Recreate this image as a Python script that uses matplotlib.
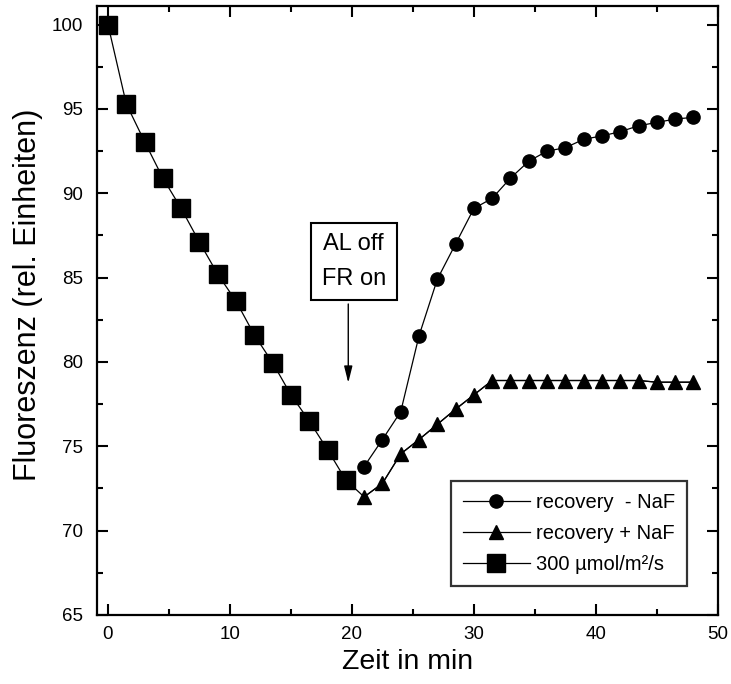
import matplotlib
matplotlib.use("Agg")
import matplotlib.pyplot as plt
from matplotlib.ticker import MultipleLocator

plt.rcParams['font.family'] = ['Liberation Sans', 'DejaVu Sans']

# Data
sq_x = [0, 1.5, 3, 4.5, 6, 7.5, 9, 10.5, 12, 13.5, 15, 16.5, 18, 19.5]
sq_y = [100, 95.3, 93.06, 90.9, 89.1, 87.1, 85.2, 83.6, 81.6, 79.95, 78.05, 76.5, 74.8, 73.0]

rec_x = [21, 22.5, 24, 25.5, 27, 28.5, 30, 31.5, 33, 34.5, 36, 37.5, 39, 40.5, 42, 43.5, 45, 46.5, 48]
circ_y = [73.8, 75.4, 77.05, 81.55, 84.9, 87.0, 89.1, 89.7, 90.9, 91.9, 92.5, 92.7, 93.2,
          93.4, 93.65, 94.0, 94.2, 94.4, 94.5]
tri_y = [72.0, 72.8, 74.55, 75.4, 76.3, 77.2, 78.05, 78.9, 78.9, 78.9, 78.9, 78.9, 78.9,
         78.9, 78.9, 78.9, 78.8, 78.8, 78.8]

labels = ['recovery  - NaF', 'recovery + NaF', '300 µmol/m²/s']
xlabel = 'Zeit in min'
ylabel = 'Fluoreszenz (rel. Einheiten)'

fig = plt.figure(figsize=(7.31, 6.84), dpi=100)
ax = fig.add_axes([0.1327, 0.1009, 0.8493, 0.8903])

ax.plot(rec_x, circ_y, '-', color='black', lw=0.9, marker='o', markersize=9.5,
        label=labels[0])
ax.plot([sq_x[-1]] + rec_x, [sq_y[-1]] + tri_y, '-', color='black', lw=0.9)
ax.plot(rec_x, tri_y, '-', color='black', lw=0.9, marker='^', markersize=10.5,
        label=labels[1])
ax.plot(sq_x, sq_y, '-', color='black', lw=0.9, marker='s', markersize=12.5,
        label=labels[2])

ax.set_xlim(-0.9, 50)
ax.set_ylim(65, 101.1)
ax.xaxis.set_major_locator(MultipleLocator(10))
ax.xaxis.set_minor_locator(MultipleLocator(5))
ax.yaxis.set_major_locator(MultipleLocator(5))
ax.yaxis.set_minor_locator(MultipleLocator(2.5))
ax.tick_params(which='both', direction='in', top=True, right=True, width=1.5,
               labelsize=13.5)
ax.tick_params(which='major', length=8)
ax.tick_params(which='minor', length=4)
ax.tick_params(axis='x', pad=8)
ax.tick_params(axis='y', pad=10)
for s in ax.spines.values():
    s.set_linewidth(1.6)

ax.set_xlabel(xlabel, fontsize=20.5, labelpad=4)
ax.set_ylabel(ylabel, fontsize=22)
ax.yaxis.set_label_coords(-0.087, 0.525)

# annotation
ax.annotate('', xy=(19.7, 78.6), xytext=(19.7, 83.6),
            arrowprops=dict(arrowstyle='-|>,head_width=0.25,head_length=1.0',
                            color='black', lw=1.0))
ax.text(20.15, 85.95, 'AL off\nFR on', ha='center', va='center', fontsize=17,
        linespacing=1.72,
        bbox=dict(boxstyle='square,pad=0.45', fc='white', ec='black', lw=1.5))

leg = ax.legend(loc='lower right', bbox_to_anchor=(0.950, 0.0476), fontsize=14.5,
                handlelength=3.3, numpoints=1, frameon=True, fancybox=False,
                edgecolor='black', borderpad=0.6, labelspacing=0.6,
                handletextpad=0.3, borderaxespad=0.0)
leg.get_frame().set_linewidth(1.6)

fig.savefig('out.png', dpi=100)
